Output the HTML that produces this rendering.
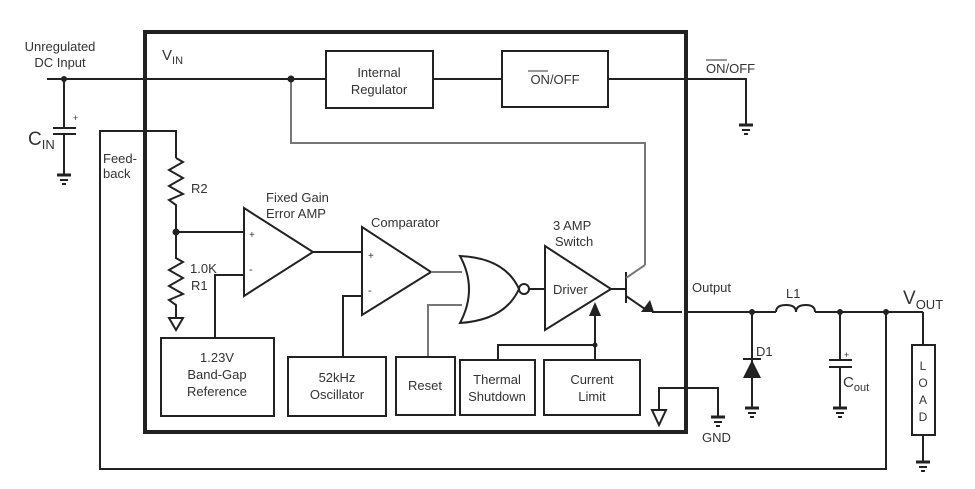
<!DOCTYPE html>
<html><head><meta charset="utf-8"><style>
html,body{margin:0;padding:0;background:#fff;}
svg{display:block;}
text{font-family:"Liberation Sans",sans-serif;fill:#333;}
</style></head><body>
<svg width="975" height="489" viewBox="0 0 975 489" xmlns="http://www.w3.org/2000/svg">
<g fill="none" stroke="#222" stroke-width="2">
<!-- main box -->
<rect x="145" y="32" width="541" height="400" stroke-width="4"/>
<!-- VIN line -->
<line x1="47" y1="79" x2="326" y2="79"/>
<rect x="326" y="51" width="107" height="57"/>
<line x1="433" y1="79" x2="502" y2="79"/>
<rect x="502" y="51" width="106" height="56"/>
<polyline points="608,79 746,79 746,125"/>
<!-- Cin -->
<line x1="64" y1="79" x2="64" y2="128"/>
<line x1="53" y1="128" x2="76" y2="128"/>
<line x1="53" y1="134" x2="76" y2="134"/>
<line x1="64" y1="134" x2="64" y2="175"/>
<!-- feedback -->
<polyline points="886,312 886,469 100,469 100,131 176,131 176,158"/>
<polyline points="176,158 183,162 169,170 183,178 169,186 183,194 169,200 176,205 176,258 183,262 169,270 183,278 169,286 183,294 169,300 176,305 176,318"/>
<polygon points="169,318 183,318 176,330"/>
<line x1="176" y1="232" x2="244" y2="232"/>
<!-- error amp -->
<polygon points="244,208 244,296 313,252"/>
<polyline points="244,275 215,275 215,338"/>
<rect x="161" y="338" width="113" height="78"/>
<line x1="313" y1="252" x2="362" y2="252"/>
<!-- comparator -->
<polygon points="362,227 362,315 431,272"/>
<polyline points="362,296 343,296 343,357"/>
<rect x="288" y="357" width="98" height="59"/>
<line x1="431" y1="272" x2="462" y2="272" stroke="#777"/>
<polyline points="428,357 428,305 462,305" stroke="#777"/>
<rect x="396" y="357" width="59" height="58"/>
<!-- NOR -->
<path d="M460,256 Q478,289 460,323 Q505,320 519,289 Q505,258 460,256 Z"/>
<circle cx="524" cy="289" r="5"/>
<line x1="529" y1="289" x2="545" y2="289"/>
<!-- driver -->
<polygon points="545,246 545,330 611,289"/>
<line x1="611" y1="289" x2="626" y2="289"/>
<polyline points="498,360 498,345 595,345"/>
<line x1="595" y1="360" x2="595" y2="316"/>
<rect x="460" y="360" width="75" height="55"/>
<rect x="544" y="360" width="96" height="55"/>
<!-- transistor -->
<line x1="626" y1="272" x2="626" y2="303"/>
<line x1="626" y1="278" x2="645" y2="265" stroke="#777"/>
<polyline points="291,79 291,143 645,143 645,265" stroke="#777"/>
<line x1="626" y1="296" x2="645" y2="309"/>
<line x1="652" y1="312" x2="682" y2="312"/>
<!-- output -->
<line x1="687" y1="312" x2="776" y2="312"/>
<path d="M776,312 q0,-7 10,-7 q10,0 10,7 q0,-7 10,-7 q9,0 9,7"/>
<line x1="815" y1="312" x2="923" y2="312"/>
<line x1="752" y1="312" x2="752" y2="408"/>
<line x1="743" y1="359" x2="761" y2="359"/>
<line x1="840" y1="312" x2="840" y2="360"/>
<line x1="829" y1="360" x2="852" y2="360"/>
<line x1="829" y1="367" x2="852" y2="367"/>
<line x1="840" y1="367" x2="840" y2="408"/>
<line x1="923" y1="312" x2="923" y2="345"/>
<rect x="912" y="345" width="23" height="90"/>
<line x1="923" y1="435" x2="923" y2="462"/>
<!-- GND -->
<polyline points="659,410 659,388 718,388 718,417"/>
<polygon points="652,410 666,410 659,425"/>
</g>
<g fill="#222">
<circle cx="64" cy="79" r="3"/><circle cx="291" cy="79" r="3.5"/><circle cx="176" cy="232" r="3.5"/>
<circle cx="595" cy="345" r="2.5"/><circle cx="752" cy="312" r="3"/><circle cx="840" cy="312" r="3"/><circle cx="886" cy="312" r="3"/>
<polygon points="743,378 761,378 752,360"/>
<polygon points="589,316 601,316 595,302"/>
<polygon points="641,312 654,312 650,300"/>
</g>
<g stroke="#222" stroke-width="2">
<line x1="57" y1="175" x2="71" y2="175" stroke-width="3"/><line x1="60" y1="180" x2="68" y2="180"/><line x1="62" y1="184" x2="66" y2="184"/>
<line x1="739" y1="125" x2="753" y2="125" stroke-width="3"/><line x1="742" y1="130" x2="750" y2="130"/><line x1="744" y1="134" x2="748" y2="134"/>
<line x1="745" y1="408" x2="759" y2="408" stroke-width="3"/><line x1="748" y1="413" x2="756" y2="413"/><line x1="750" y1="417" x2="754" y2="417"/>
<line x1="833" y1="408" x2="847" y2="408" stroke-width="3"/><line x1="836" y1="413" x2="844" y2="413"/><line x1="838" y1="417" x2="842" y2="417"/>
<line x1="916" y1="462" x2="930" y2="462" stroke-width="3"/><line x1="919" y1="467" x2="927" y2="467"/><line x1="921" y1="471" x2="925" y2="471"/>
<line x1="711" y1="417" x2="725" y2="417" stroke-width="3"/><line x1="714" y1="422" x2="722" y2="422"/><line x1="716" y1="426" x2="720" y2="426"/>
</g>
<g font-size="13">
<text x="60" y="51" text-anchor="middle">Unregulated</text>
<text x="60" y="67" text-anchor="middle">DC Input</text>
<text x="162" y="60" font-size="15">V<tspan font-size="11" dy="4">IN</tspan></text>
<text x="28" y="145" font-size="19">C<tspan font-size="13" dy="4">IN</tspan></text>
<text x="73" y="121" font-size="9">+</text>
<text x="103" y="163">Feed-</text>
<text x="103" y="178">back</text>
<text x="191" y="193">R2</text>
<text x="190" y="273">1.0K</text>
<text x="191" y="290">R1</text>
<text x="379" y="77" text-anchor="middle">Internal</text>
<text x="379" y="94" text-anchor="middle">Regulator</text>
<text x="555" y="84" text-anchor="middle">ON/OFF</text>
<line x1="528" y1="71" x2="548" y2="71" stroke="#333" stroke-width="1"/>
<text x="706" y="73">ON/OFF</text>
<line x1="706" y1="60" x2="727" y2="60" stroke="#333" stroke-width="1"/>
<text x="266" y="202">Fixed Gain</text>
<text x="266" y="218">Error AMP</text>
<text x="371" y="227">Comparator</text>
<text x="249" y="238" font-size="10">+</text>
<text x="249" y="273" font-size="11">-</text>
<text x="368" y="259" font-size="10">+</text>
<text x="368" y="294" font-size="11">-</text>
<text x="553" y="230">3 AMP</text>
<text x="555" y="246">Switch</text>
<text x="553" y="294">Driver</text>
<text x="217" y="362" text-anchor="middle">1.23V</text>
<text x="217" y="379" text-anchor="middle">Band-Gap</text>
<text x="217" y="396" text-anchor="middle">Reference</text>
<text x="337" y="382" text-anchor="middle">52kHz</text>
<text x="337" y="399" text-anchor="middle">Oscillator</text>
<text x="425" y="390" text-anchor="middle">Reset</text>
<text x="497" y="384" text-anchor="middle">Thermal</text>
<text x="497" y="401" text-anchor="middle">Shutdown</text>
<text x="592" y="384" text-anchor="middle">Current</text>
<text x="592" y="401" text-anchor="middle">Limit</text>
<text x="692" y="292">Output</text>
<text x="786" y="298">L1</text>
<text x="756" y="356">D1</text>
<text x="844" y="358" font-size="9">+</text>
<text x="843" y="387" font-size="15">C<tspan font-size="11" dy="4">out</tspan></text>
<text x="903" y="304" font-size="19">V<tspan font-size="13" dy="5">OUT</tspan></text>
<text x="702" y="442">GND</text>
<g font-size="12" text-anchor="middle"><text x="923" y="370">L</text><text x="923" y="387">O</text><text x="923" y="404">A</text><text x="923" y="421">D</text></g>
</g>
</svg>
</body></html>
